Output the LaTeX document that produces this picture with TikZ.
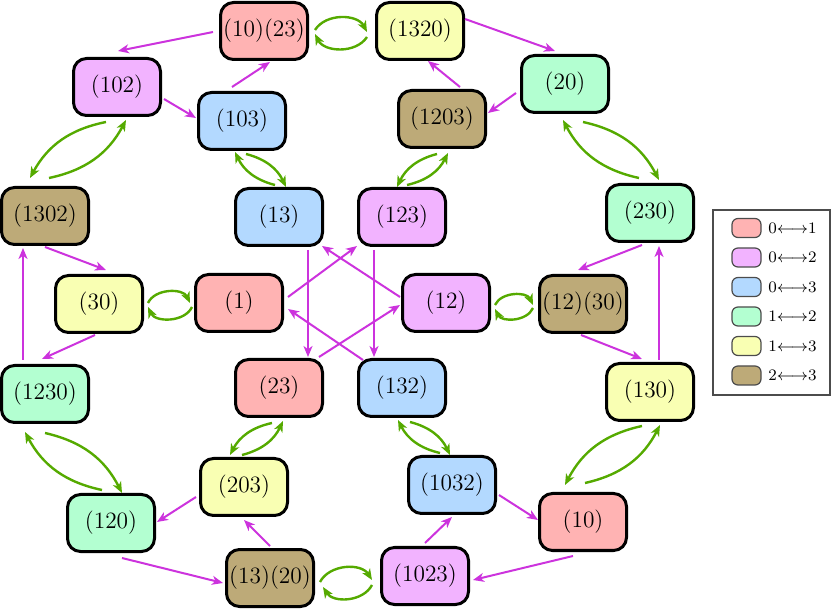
\documentclass[tikz,border=0pt]{standalone}
\usetikzlibrary{arrows.meta,calc}
\definecolor{cR}{RGB}{255,179,179}
\definecolor{cM}{RGB}{242,179,255}
\definecolor{cB}{RGB}{179,217,255}
\definecolor{cG}{RGB}{179,255,209}
\definecolor{cY}{RGB}{249,255,179}
\definecolor{cT}{RGB}{189,170,120}
\definecolor{eM}{RGB}{204,51,221}
\definecolor{eG}{RGB}{85,170,0}
\begin{document}
\begin{tikzpicture}[x=0.5pt,y=-0.5pt,
 box/.style={draw=black, line width=1.5pt, rounded corners=6.5pt, minimum width=43.5pt, minimum height=28.5pt, inner sep=0pt, font=\fontsize{11.7}{14}\selectfont},
 me/.style={draw=eM, line width=1pt, -{Stealth[length=5.5pt,width=4.5pt,inset=1.6pt]}},
 ge/.style={draw=eG, line width=1.2pt, -{Stealth[length=5.5pt,width=4.5pt,inset=1.6pt]}},
 sw/.style={draw=black!70, line width=0.6pt, rounded corners=3pt, minimum width=14.5pt, minimum height=9.5pt, inner sep=0pt},
 lt/.style={anchor=west, inner sep=0pt, font=\footnotesize}]
\useasboundingbox (0,0) rectangle (831,609);
% nodes
\node[box,fill=cR] (A) at (264,31) {(10)(23)};
\node[box,fill=cY] (B) at (420,31) {(1320)};
\node[box,fill=cM] (C) at (117,87) {(102)};
\node[box,fill=cG] (D) at (565,84) {(20)};
\node[box,fill=cB] (E) at (242,121) {(103)};
\node[box,fill=cT] (F) at (442,119) {(1203)};
\node[box,fill=cT] (G) at (45,216) {(1302)};
\node[box,fill=cG] (H) at (650,213) {(230)};
\node[box,fill=cB] (I) at (279,217) {(13)};
\node[box,fill=cM] (J) at (402,217) {(123)};
\node[box,fill=cY] (K) at (99,304) {(30)};
\node[box,fill=cR] (L) at (239,303) {(1)};
\node[box,fill=cM] (M) at (446,303) {(12)};
\node[box,fill=cT] (N) at (583,304) {(12)(30)};
\node[box,fill=cG] (O) at (45,394) {(1230)};
\node[box,fill=cR] (P) at (279,388) {(23)};
\node[box,fill=cB] (Q) at (402,388) {(132)};
\node[box,fill=cY] (R) at (650,392) {(130)};
\node[box,fill=cY] (S) at (244,487) {(203)};
\node[box,fill=cB] (T) at (452,485) {(1032)};
\node[box,fill=cG] (U) at (111,523) {(120)};
\node[box,fill=cR] (V) at (583,522) {(10)};
\node[box,fill=cT] (W) at (270,578) {(13)(20)};
\node[box,fill=cM] (X) at (425,576) {(1023)};
% magenta edges
\draw[me] ($(A)+(-51,1)$) -- ($(C)+(1,-36)$);
\draw[me] ($(C)+(47,12)$) -- ($(E)+(-46,-3)$);
\draw[me] ($(E)+(-10,-34)$) -- ($(A)+(6,31)$);
\draw[me] ($(B)+(45,-12)$) -- ($(D)+(-10,-33)$);
\draw[me] ($(D)+(-49,9)$) -- ($(F)+(46,-6)$);
\draw[me] ($(F)+(18,-32)$) -- ($(B)+(8,30)$);
\draw[me] ($(G)+(0,31)$) -- ($(K)+(7,-34)$);
\draw[me] ($(K)+(-4,31)$) -- ($(O)+(-3,-35)$);
\draw[me] ($(O)+(-22,-34)$) -- ($(G)+(-22,32)$);
\draw[me] ($(H)+(-8,32)$) -- ($(N)+(-5,-34)$);
\draw[me] ($(N)+(-2,31)$) -- ($(R)+(-8,-33)$);
\draw[me] ($(R)+(9,-32)$) -- ($(H)+(9,33)$);
\draw[me] ($(S)+(-48,10)$) -- ($(U)+(46,-1)$);
\draw[me] ($(U)+(11,35)$) -- ($(W)+(-47,5)$);
\draw[me] ($(W)+(0,-32)$) -- ($(S)+(0,33)$);
\draw[me] ($(T)+(47,10)$) -- ($(V)+(-45,-2)$);
\draw[me] ($(V)+(-10,34)$) -- ($(X)+(48,4)$);
\draw[me] ($(X)+(0,-33)$) -- ($(T)+(0,32)$);
\draw[me] ($(L)+(49,-6)$) -- ($(J)+(-45,29)$);
\draw[me] ($(Q)+(-39,-28)$) -- ($(L)+(49,6)$);
\draw[me] ($(M)+(-46,-6)$) -- ($(I)+(43,29)$);
\draw[me] ($(P)+(40,-31)$) -- ($(M)+(-46,2)$);
\draw[me] ($(I)+(29,33)$) -- ($(P)+(29,-31)$);
\draw[me] ($(J)+(-28,33)$) -- ($(Q)+(-28,-31)$);
% green edges
\draw[ge] ($(A)+(51,-1)$) to[bend left=60] ($(B)+(-53,1)$);
\draw[ge] ($(B)+(-53,6)$) to[bend left=60] ($(A)+(51,3)$);
\draw[ge] ($(C)+(-11,35)$) to[bend right=25] ($(G)+(-15,-38)$);
\draw[ge] ($(G)+(4,-38)$) to[bend right=25] ($(C)+(9,33)$);
\draw[ge] ($(I)+(-4,-32)$) to[bend left=25] ($(E)+(-7,31)$);
\draw[ge] ($(E)+(4,33)$) to[bend left=25] ($(I)+(7,-30)$);
\draw[ge] ($(F)+(-5,35)$) to[bend right=25] ($(J)+(-5,-30)$);
\draw[ge] ($(J)+(5,-32)$) to[bend right=25] ($(F)+(6,34)$);
\draw[ge] ($(H)+(-11,-35)$) to[bend left=25] ($(D)+(-2,36)$);
\draw[ge] ($(D)+(18,38)$) to[bend left=25] ($(H)+(9,-33)$);
\draw[ge] ($(K)+(49,-1)$) to[bend left=65] ($(L)+(-49,0)$);
\draw[ge] ($(L)+(-47,4)$) to[bend left=65] ($(K)+(49,3)$);
\draw[ge] ($(M)+(49,2)$) to[bend left=65] ($(N)+(-50,1)$);
\draw[ge] ($(N)+(-50,4)$) to[bend left=65] ($(M)+(49,6)$);
\draw[ge] ($(U)+(-9,-33)$) to[bend left=25] ($(O)+(-20,38)$);
\draw[ge] ($(O)+(0,39)$) to[bend left=25] ($(U)+(11,-30)$);
\draw[ge] ($(P)+(-7,35)$) to[bend right=25] ($(S)+(-14,-32)$);
\draw[ge] ($(S)+(-2,-32)$) to[bend right=25] ($(P)+(4,33)$);
\draw[ge] ($(T)+(-12,-32)$) to[bend left=25] ($(Q)+(-4,32)$);
\draw[ge] ($(Q)+(8,34)$) to[bend left=25] ($(T)+(-2,-30)$);
\draw[ge] ($(R)+(-8,34)$) to[bend right=25] ($(V)+(-18,-37)$);
\draw[ge] ($(V)+(2,-39)$) to[bend right=25] ($(R)+(10,33)$);
\draw[ge] ($(W)+(50,4)$) to[bend left=60] ($(X)+(-53,4)$);
\draw[ge] ($(X)+(-53,9)$) to[bend left=60] ($(W)+(53,9)$);
% legend
\draw[black!70, line width=0.6pt] (713,210) rectangle (830,395);
\node[sw,fill=cR] (s1) at (746.5,228) {};
\node[sw,fill=cM] (s2) at (746.5,257.5) {};
\node[sw,fill=cB] (s3) at (746.5,287) {};
\node[sw,fill=cG] (s4) at (746.5,316.5) {};
\node[sw,fill=cY] (s5) at (746.5,346) {};
\node[sw,fill=cT] (s6) at (746.5,375.5) {};
\node[lt] (t1) at (768,228) {$0{\longleftrightarrow}1$};
\node[lt] (t2) at (768,257.5) {$0{\longleftrightarrow}2$};
\node[lt] (t3) at (768,287) {$0{\longleftrightarrow}3$};
\node[lt] (t4) at (768,316.5) {$1{\longleftrightarrow}2$};
\node[lt] (t5) at (768,346) {$1{\longleftrightarrow}3$};
\node[lt] (t6) at (768,375.5) {$2{\longleftrightarrow}3$};
\end{tikzpicture}
\end{document}
